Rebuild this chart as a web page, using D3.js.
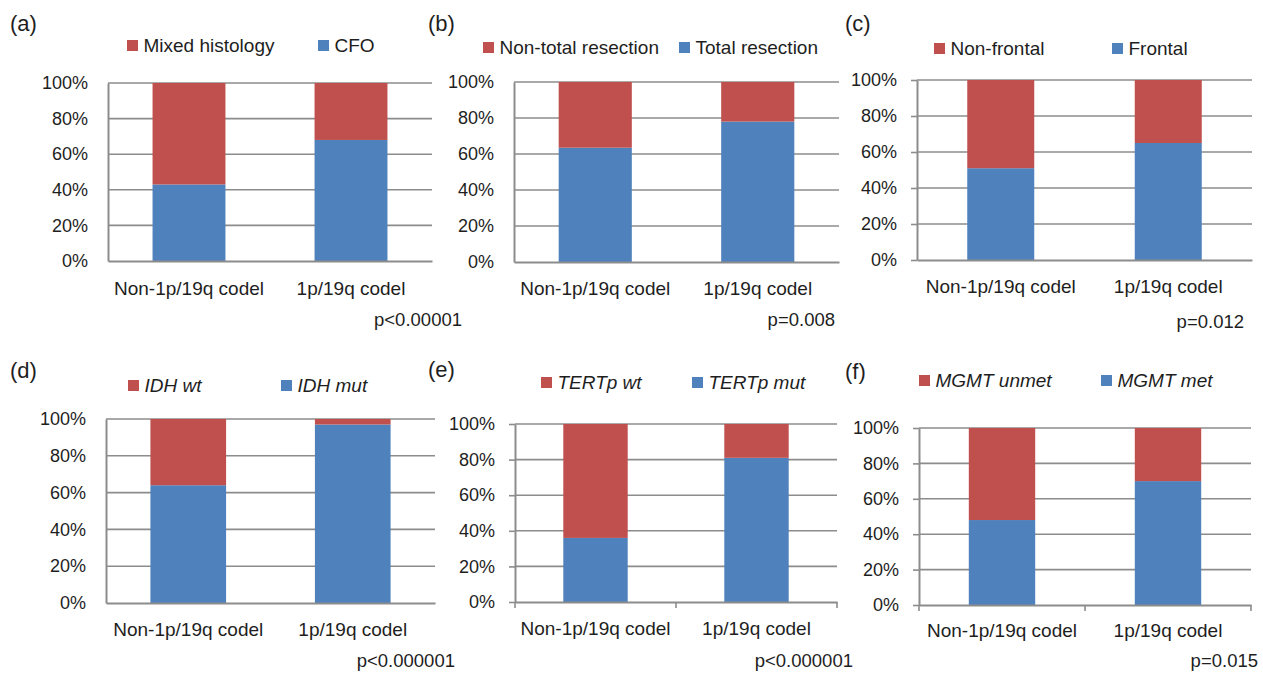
<!DOCTYPE html>
<html>
<head>
<meta charset="utf-8">
<script src="https://cdn.jsdelivr.net/npm/d3@7"></script>
<style>
  body { margin: 0; background: #fff; }
  svg { display: block; font-family: "Liberation Sans", Arial, sans-serif; }
</style>
</head>
<body>
<div id="chart"></div>
<script>
// ---- data ----
const categories = ["Non-1p/19q codel", "1p/19q codel"];
const panelTags = ["(a)", "(b)", "(c)", "(d)", "(e)", "(f)"];
const redNames = ["Mixed histology", "Non-total resection", "Non-frontal", "IDH wt", "TERTp wt", "MGMT unmet"];
const blueNames = ["CFO", "Total resection", "Frontal", "IDH mut", "TERTp mut", "MGMT met"];
// blue (bottom) share in %, per category
const blueShare = [
  [43, 68],
  [63.5, 78],
  [51, 65],
  [64, 97],
  [36, 81],
  [48, 70]
];
const pValues = ["p<0.00001", "p=0.008", "p=0.012", "p<0.000001", "p<0.000001", "p=0.015"];
const yTicks = [0, 20, 40, 60, 80, 100];

// ---- layout (positions / styles) ----
const width = 1263, height = 673;
const RED = "#C0504D", BLUE = "#4F81BD", GRID = "#8c8c8c", INK = "#1e1e1e";

const layout = [
  {x0: 108, x1: 432, yTop: 83, yBot: 261, pad: 0.55, redKey: 127, blueKey: 318, keyY: 52, tagX: 10, tagY: 31, pX: 462, pY: 326, catY: 295, yt: false, xt: false, it: false},
  {x0: 514, x1: 839, yTop: 82, yBot: 262, pad: 0.55, redKey: 483, blueKey: 679, keyY: 54, tagX: 428, tagY: 31, pX: 835, pY: 326, catY: 295, yt: false, xt: false, it: false},
  {x0: 917, x1: 1252, yTop: 80, yBot: 260, pad: 0.6, redKey: 934, blueKey: 1112, keyY: 55, tagX: 845, tagY: 31, pX: 1244, pY: 328, catY: 293, yt: true, xt: false, it: false},
  {x0: 106, x1: 435, yTop: 419, yBot: 603, pad: 0.54, redKey: 128, blueKey: 281, keyY: 392, tagX: 10, tagY: 378, pX: 455, pY: 667, catY: 636, yt: false, xt: false, it: true},
  {x0: 515, x1: 837, yTop: 424, yBot: 602, pad: 0.6, redKey: 541, blueKey: 692, keyY: 389, tagX: 428, tagY: 377, pX: 853, pY: 667, catY: 635, yt: true, xt: true, it: true},
  {x0: 919, x1: 1251, yTop: 428, yBot: 605, pad: 0.6, redKey: 919, blueKey: 1101, keyY: 387, tagX: 845, tagY: 379, pX: 1258, pY: 667, catY: 637, yt: true, xt: true, it: true}
];

const svg = d3.select("#chart").append("svg")
  .attr("width", width)
  .attr("height", height);

layout.forEach((L, i) => {
  const g = svg.append("g");

  const x = d3.scaleBand()
    .domain(categories)
    .range([L.x0, L.x1])
    .paddingInner(L.pad)
    .paddingOuter(L.pad / 2);

  const y = d3.scaleLinear()
    .domain([0, 100])
    .range([L.yBot, L.yTop]);

  // gridlines
  g.append("g").selectAll("line")
    .data(yTicks.filter(d => d > 0))
    .join("line")
    .attr("x1", L.x0).attr("x2", L.x1)
    .attr("y1", d => y(d)).attr("y2", d => y(d))
    .attr("stroke", GRID)
    .attr("stroke-width", 1.6);

  // stacked bars
  const rows = categories.map((c, j) => ({cat: c, blue: blueShare[i][j], red: 100 - blueShare[i][j]}));
  const stacked = d3.stack().keys(["blue", "red"])(rows);
  const colour = {blue: BLUE, red: RED};

  g.append("g").selectAll("g")
    .data(stacked)
    .join("g")
    .attr("fill", s => colour[s.key])
    .selectAll("rect")
    .data(s => s)
    .join("rect")
    .attr("x", d => x(d.data.cat))
    .attr("width", x.bandwidth())
    .attr("y", d => y(d[1]))
    .attr("height", d => y(d[0]) - y(d[1]));

  // y axis
  const yAxis = g.append("g")
    .attr("transform", `translate(${L.x0},0)`)
    .call(d3.axisLeft(y)
      .tickValues(yTicks)
      .tickFormat(d => d + "%")
      .tickSize(L.yt ? 6 : 0)
      .tickSizeOuter(0)
      .tickPadding(L.yt ? 14 : 20));
  yAxis.select(".domain").attr("stroke", GRID).attr("stroke-width", 2);
  yAxis.selectAll(".tick line").attr("stroke", GRID).attr("stroke-width", 1.6);
  yAxis.selectAll("text")
    .attr("fill", INK)
    .style("font-size", "18px")
    .style("font-family", "'Liberation Sans', Arial, sans-serif");

  // x axis
  const xAxis = g.append("g")
    .attr("transform", `translate(0,${L.yBot})`)
    .call(d3.axisBottom(x).tickSize(0).tickSizeOuter(0));
  xAxis.select(".domain").attr("stroke", GRID).attr("stroke-width", 2);
  xAxis.selectAll("text")
    .attr("y", L.catY - L.yBot)
    .attr("dy", 0)
    .attr("fill", INK)
    .style("font-size", "19px")
    .style("font-family", "'Liberation Sans', Arial, sans-serif");

  if (L.xt) {
    const bounds = [L.x0, L.x0 + x.step(), L.x1];
    g.append("g").selectAll("line")
      .data(bounds)
      .join("line")
      .attr("x1", d => d).attr("x2", d => d)
      .attr("y1", L.yBot).attr("y2", L.yBot + 6)
      .attr("stroke", GRID)
      .attr("stroke-width", 1.6);
  }

  // legend
  const keys = [
    {name: redNames[i], col: RED, x: L.redKey},
    {name: blueNames[i], col: BLUE, x: L.blueKey}
  ];
  const lg = g.append("g");
  lg.selectAll("rect")
    .data(keys)
    .join("rect")
    .attr("x", d => d.x)
    .attr("y", L.keyY - 12)
    .attr("width", 11)
    .attr("height", 11)
    .attr("fill", d => d.col);
  lg.selectAll("text")
    .data(keys)
    .join("text")
    .attr("x", d => d.x + 16.5)
    .attr("y", L.keyY)
    .attr("fill", INK)
    .style("font-size", "19px")
    .style("font-style", L.it ? "italic" : "normal")
    .text(d => d.name);

  // panel tag
  g.append("text")
    .attr("x", L.tagX)
    .attr("y", L.tagY)
    .attr("fill", INK)
    .style("font-size", "22px")
    .text(panelTags[i]);

  // p value
  g.append("text")
    .attr("x", L.pX)
    .attr("y", L.pY)
    .attr("text-anchor", "end")
    .attr("fill", INK)
    .style("font-size", "18.5px")
    .text(pValues[i]);
});
</script>
</body>
</html>
